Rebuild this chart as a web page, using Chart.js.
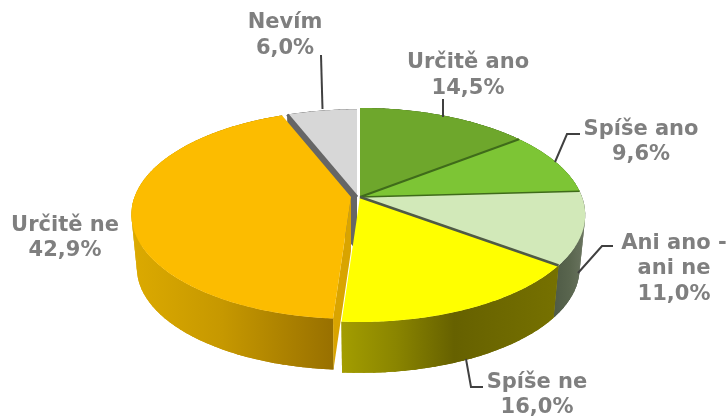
<!DOCTYPE html>
<html><head><meta charset="utf-8">
<style>html,body{margin:0;padding:0;background:#fff}canvas{display:block}</style>
<script src="https://cdn.jsdelivr.net/npm/chart.js@4"></script></head>
<body><canvas id="c" width="727" height="416"></canvas>
<script>
const categories = ["Určitě ano","Spíše ano","Ani ano -\nani ne","Spíše ne","Určitě ne","Nevím"];
const shares = [14.5,9.6,11.0,16.0,42.9,6.0];
const topColors = ["#6ea72c","#7dc535","#d2e9b9","#ffff00","#fcbc00","#d7d7d7"];

const GEO = {cx:360, cy:197, rx:222, ry:104, p:0.168, depth:54, shrink:0.975};
const sliceShift = [{x:0,y:0,r:1},{x:0,y:0,r:1},{x:0,y:0,r:1},{x:0,y:0,r:1},{x:-9,y:0,r:0.975},{x:-3,y:0,r:0.985}];
const wallStops = [
  [[0,"#4a7020"],[1,"#4a7020"]],
  [[0,"#548a24"],[1,"#548a24"]],
  [[0,"#4f5b46"],[0.5,"#59654e"],[1,"#6b7560"]],
  [[0,"#a39d00"],[0.25,"#8a8500"],[0.52,"#666100"],[1,"#767100"]],
  [[0,"#dcaa00"],[0.45,"#c69800"],[1,"#987000"]],
  [[0,"#666666"],[1,"#666666"]]
];
const cutWall = {4:"#d9a400",5:"#666666"};
const seams = [{i:1,c:"#3f6b1a",w:2},{i:2,c:"#3f6b1a",w:1.5},{i:3,c:"#4f5a45",w:2.5},{i:5,c:"#666666",w:3}];
const labelBoxes = [
  {x:468,y:63},{x:641,y:129.5},{x:674,y:243.5},{x:537,y:382.5},{x:65,y:225.5},{x:285,y:23}
];
const leaders = [
  [[443,99],[443,117]],
  [[555,162],[567,134],[580,134]],
  [[578,273],[602,246],[613,246]],
  [[466,359],[471,387],[483,387]],
  [],
  [[321,55],[322.5,109]]
];
const LINE_H = 25.5;

function pt(i, a, level) {
  const s = sliceShift[i], th = a + Math.PI/2, sc = level ? GEO.shrink : 1;
  const u = Math.sin(th), v = Math.cos(th), w = 1 + GEO.p*v;
  return [GEO.cx + s.x + GEO.rx*u/w*s.r*sc, GEO.cy + s.y - GEO.ry*v/w*s.r*sc + (level?GEO.depth:0)];
}
function apex(i, level) {
  const s = sliceShift[i];
  return [GEO.cx + s.x, GEO.cy + s.y + (level?GEO.depth:0)];
}
function arcPts(i, a0, a1, level) {
  const n = Math.max(2, Math.ceil(Math.abs(a1-a0)/0.01)), o = [];
  for (let k=0;k<=n;k++) o.push(pt(i, a0+(a1-a0)*k/n, level));
  return o;
}
function poly(ctx, pts) {
  ctx.beginPath();
  pts.forEach((p,k)=> k?ctx.lineTo(p[0],p[1]):ctx.moveTo(p[0],p[1]));
  ctx.closePath();
}

const pie3d = {
  id:"pie3d",
  beforeDatasetsDraw(chart) {
    const ctx = chart.ctx, arcs = chart.getDatasetMeta(0).data;
    const A = arcs.map(e=>e.getProps(["startAngle","endAngle"],true));
    ctx.save();
    ctx.lineJoin = "round";
    [5,0,1,2,3,4].forEach(i=>{
      if (i===5) {
        poly(ctx,[pt(i,A[i].startAngle,0),apex(i,0),apex(i,1),pt(i,A[i].startAngle,1)]);
        ctx.fillStyle = cutWall[i]; ctx.fill();
      }
      const top = arcPts(i,A[i].startAngle,A[i].endAngle,0);
      const bot = arcPts(i,A[i].startAngle,A[i].endAngle,1);
      const xs = top.concat(bot).map(p=>p[0]);
      const g = ctx.createLinearGradient(Math.min(...xs),0,Math.max(...xs),0);
      wallStops[i].forEach(([o,c])=>g.addColorStop(o,c));
      ctx.fillStyle = g;
      poly(ctx,top.concat(bot.slice().reverse())); ctx.fill();
      // sweep between the two rims so the silhouette keeps its tangent edge
      for (let k=0;k<top.length-1;k+=4) {
        const e = Math.min(k+5,top.length-1);
        poly(ctx,[top[k],top[e],bot[e],bot[k]]); ctx.fill();
      }
      if (i===4) {
        poly(ctx,[apex(i,0),pt(i,A[i].startAngle,0),pt(i,A[i].startAngle,1),apex(i,1)]);
        ctx.fillStyle = cutWall[i]; ctx.fill();
      }
    });
    arcs.forEach((e,i)=>{
      poly(ctx,[apex(i,0)].concat(arcPts(i,A[i].startAngle,A[i].endAngle,0)));
      ctx.fillStyle = e.options.backgroundColor; ctx.fill();
    });
    seams.forEach(s=>{
      const p = pt(s.i,A[s.i].startAngle,0), c = apex(s.i,0);
      ctx.beginPath(); ctx.moveTo(c[0],c[1]); ctx.lineTo(p[0],p[1]);
      ctx.strokeStyle = s.c; ctx.lineWidth = s.w; ctx.stroke();
    });
    ctx.restore();
    return false;
  },
  afterDraw(chart) {
    const ctx = chart.ctx, data = chart.data;
    ctx.save();
    ctx.strokeStyle = "#404040"; ctx.lineWidth = 2; ctx.lineJoin = "miter";
    leaders.forEach(l=>{
      if(!l.length) return;
      ctx.beginPath();
      l.forEach((p,k)=>k?ctx.lineTo(p[0],p[1]):ctx.moveTo(p[0],p[1]));
      ctx.stroke();
    });
    ctx.font = 'bold 21px "DejaVu Sans"';
    ctx.fillStyle = "#7f7f7f"; ctx.textAlign = "center"; ctx.textBaseline = "middle";
    data.labels.forEach((lab,i)=>{
      const lines = lab.split("\n");
      lines.push(data.datasets[0].data[i].toFixed(1).replace(".",",")+"%");
      lines.forEach((t,k)=>ctx.fillText(t,labelBoxes[i].x,labelBoxes[i].y+k*LINE_H));
    });
    ctx.restore();
  }
};

new Chart(document.getElementById("c"),{
  type:"pie",
  data:{labels:categories,datasets:[{data:shares,backgroundColor:topColors,borderWidth:0}]},
  options:{responsive:false,animation:false,
    plugins:{legend:{display:false},tooltip:{enabled:false}}},
  plugins:[pie3d]
});
</script></body></html>
